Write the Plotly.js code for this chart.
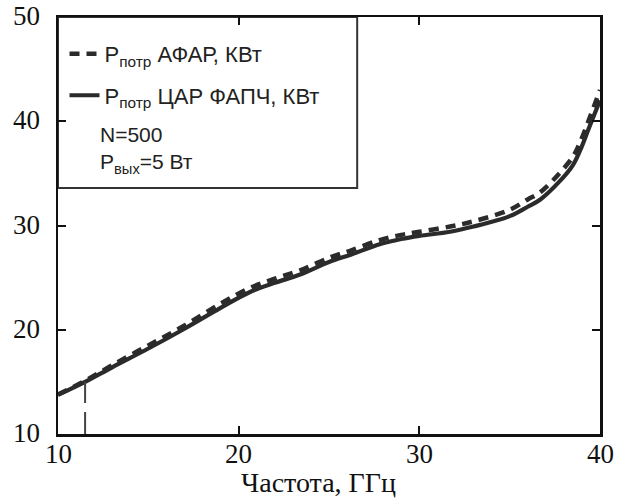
<!DOCTYPE html>
<html>
<head>
<meta charset="utf-8">
<script src="https://cdn.plot.ly/plotly-3.0.1.min.js"></script>
<style>html,body{margin:0;padding:0;background:#fff;}#chart{width:628px;height:500px;}</style>
</head>
<body>
<div id="chart"></div>
<script>
// Frequency, GHz
const freqSolid = [10, 11.5, 13, 15, 17, 19, 20.6, 22, 23.4, 25, 26.2, 27.8, 29, 30, 31.7, 33, 35, 36, 36.7, 37.8, 38.5, 38.9, 39.4, 40];
// P consumed, central AR with PLL, kW
const pSolid = [13.75, 15.0, 16.4, 18.2, 20.1, 22.1, 23.6, 24.5, 25.3, 26.5, 27.2, 28.2, 28.7, 29.0, 29.4, 29.9, 30.9, 31.8, 32.5, 34.3, 35.8, 37.2, 39.4, 42.0];
// P consumed, AFAR, kW
const freqDash = [10, 11.5, 13, 15, 17, 19, 20.6, 22, 23.4, 25, 26.2, 27.8, 29, 30, 31.7, 33, 35, 36, 36.7, 37.8, 38.5, 38.9, 39.4, 40];
const pDash = [13.8, 15.1, 16.6, 18.5, 20.4, 22.5, 24.0, 24.9, 25.7, 26.9, 27.6, 28.6, 29.1, 29.4, 29.9, 30.4, 31.5, 32.5, 33.2, 35.1, 36.6, 38.0, 40.2, 43.0];
// vertical dashed marker
const markFreq = [11.5, 11.5];
const markP = [10, 15.0];

const yTicks = [10, 20, 30, 40, 50];
const xTicks = [10, 20, 30, 40];
const xTitle = 'Частота, ГГц';
const infoText = 'N=500<br>P<sub>вых</sub>=5 Вт';

const lineColor = '#2b2b2b';
const serif = '"Liberation Serif", "Times New Roman", serif';
const sans = '"Liberation Sans", Arial, sans-serif';

const traces = [
  {x: freqDash, y: pDash, mode: 'lines', name: 'P<sub>потр</sub> АФАР, КВт', legendgroup: 'a',
   line: {color: lineColor, width: 4.5, dash: '10px,7px', shape: 'spline'}},
  {x: freqSolid, y: pSolid, mode: 'lines', name: 'P<sub>потр</sub> ЦАР ФАПЧ, КВт', legendgroup: 'b',
   line: {color: lineColor, width: 4.2, shape: 'spline'}},
  {x: markFreq, y: markP, mode: 'lines', showlegend: false, hoverinfo: 'skip',
   line: {color: '#444', width: 2, dash: '22px,9px'}}
];

const tickFont = {family: serif, size: 27, color: '#111'};
const annotations = [];
yTicks.forEach(v => annotations.push({xref: 'paper', yref: 'y', x: 0, y: v, xanchor: 'right', yanchor: 'middle',
  xshift: -16, yshift: 1, showarrow: false, text: String(v), font: tickFont}));
xTicks.forEach(v => annotations.push({xref: 'x', yref: 'paper', x: v, y: 0, xanchor: 'center', yanchor: 'top',
  yshift: -3, showarrow: false, text: String(v), font: tickFont}));
annotations.push({xref: 'paper', yref: 'paper', x: 0.48, y: 0, xanchor: 'center', yanchor: 'top',
  yshift: -31, showarrow: false, text: xTitle, font: {family: serif, size: 28, color: '#111'}});
annotations.push({xref: 'paper', yref: 'paper', x: 0.074, y: 0.68, xanchor: 'left', yanchor: 'middle', align: 'left',
  showarrow: false, text: infoText, font: {family: sans, size: 21, color: '#222'}});

const axisBase = {
  showgrid: false, zeroline: false, showline: true, linecolor: '#111', linewidth: 2.5,
  ticks: 'inside', ticklen: 8, tickwidth: 2, tickcolor: '#111', mirror: 'ticks',
  showticklabels: false, tickmode: 'array'
};

const layout = {
  width: 628, height: 500,
  margin: {l: 58, r: 28, t: 17, b: 66},
  paper_bgcolor: '#fff', plot_bgcolor: '#fff',
  font: {family: serif, size: 26, color: '#111'},
  showlegend: true,
  legend: {x: 0.012, y: 0.962, xanchor: 'left', yanchor: 'top', bgcolor: 'rgba(0,0,0,0)',
    borderwidth: 0, tracegroupgap: 10, itemwidth: 30,
    font: {family: sans, size: 22, color: '#222'}},
  xaxis: Object.assign({}, axisBase, {range: [10, 40], tickvals: xTicks}),
  yaxis: Object.assign({}, axisBase, {range: [10, 50], tickvals: yTicks}),
  shapes: [
    {type: 'rect', xref: 'paper', yref: 'paper', x0: 0, x1: 0.552, y0: 0.59, y1: 1,
     line: {color: '#333', width: 2}, fillcolor: 'rgba(255,255,255,1)', layer: 'below'}
  ],
  annotations: annotations
};

Plotly.newPlot('chart', traces, layout, {staticPlot: true, displayModeBar: false});
</script>
</body>
</html>
